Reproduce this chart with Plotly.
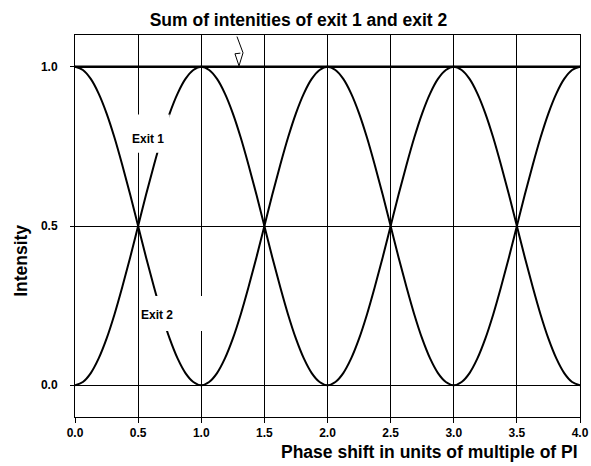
import plotly.graph_objects as go

# Phase shift (units of PI), sampled every 1/16
phase = [0.0, 0.0625, 0.125, 0.1875, 0.25, 0.3125, 0.375, 0.4375,
         0.5, 0.5625, 0.625, 0.6875, 0.75, 0.8125, 0.875, 0.9375,
         1.0, 1.0625, 1.125, 1.1875, 1.25, 1.3125, 1.375, 1.4375,
         1.5, 1.5625, 1.625, 1.6875, 1.75, 1.8125, 1.875, 1.9375,
         2.0, 2.0625, 2.125, 2.1875, 2.25, 2.3125, 2.375, 2.4375,
         2.5, 2.5625, 2.625, 2.6875, 2.75, 2.8125, 2.875, 2.9375,
         3.0, 3.0625, 3.125, 3.1875, 3.25, 3.3125, 3.375, 3.4375,
         3.5, 3.5625, 3.625, 3.6875, 3.75, 3.8125, 3.875, 3.9375, 4.0]

# Intensity at exit 1 (reaches 1 at odd multiples of PI)
exit1 = [0.000, 0.010, 0.038, 0.084, 0.146, 0.222, 0.309, 0.402,
         0.500, 0.598, 0.691, 0.778, 0.854, 0.916, 0.962, 0.990,
         1.000, 0.990, 0.962, 0.916, 0.854, 0.778, 0.691, 0.598,
         0.500, 0.402, 0.309, 0.222, 0.146, 0.084, 0.038, 0.010,
         0.000, 0.010, 0.038, 0.084, 0.146, 0.222, 0.309, 0.402,
         0.500, 0.598, 0.691, 0.778, 0.854, 0.916, 0.962, 0.990,
         1.000, 0.990, 0.962, 0.916, 0.854, 0.778, 0.691, 0.598,
         0.500, 0.402, 0.309, 0.222, 0.146, 0.084, 0.038, 0.010, 0.000]

# Intensity at exit 2 (complementary to exit 1)
exit2 = [1.000, 0.990, 0.962, 0.916, 0.854, 0.778, 0.691, 0.598,
         0.500, 0.402, 0.309, 0.222, 0.146, 0.084, 0.038, 0.010,
         0.000, 0.010, 0.038, 0.084, 0.146, 0.222, 0.309, 0.402,
         0.500, 0.598, 0.691, 0.778, 0.854, 0.916, 0.962, 0.990,
         1.000, 0.990, 0.962, 0.916, 0.854, 0.778, 0.691, 0.598,
         0.500, 0.402, 0.309, 0.222, 0.146, 0.084, 0.038, 0.010,
         0.000, 0.010, 0.038, 0.084, 0.146, 0.222, 0.309, 0.402,
         0.500, 0.598, 0.691, 0.778, 0.854, 0.916, 0.962, 0.990, 1.000]

# Sum of both exits
total = [1.00] * len(phase)

x_ticks = [0.0, 0.5, 1.0, 1.5, 2.0, 2.5, 3.0, 3.5, 4.0]
x_tick_labels = ["0.0", "0.5", "1.0", "1.5", "2.0", "2.5", "3.0", "3.5", "4.0"]
y_ticks = [0.0, 0.5, 1.0]
y_tick_labels = ["0.0", "0.5", "1.0"]

FONT = "Arial, 'Liberation Sans', sans-serif"

fig = go.Figure()
fig.add_trace(go.Scatter(x=phase, y=exit1, mode="lines", name="Exit 1",
                         line=dict(color="black", width=2, shape="spline")))
fig.add_trace(go.Scatter(x=phase, y=exit2, mode="lines", name="Exit 2",
                         line=dict(color="black", width=2, shape="spline")))
fig.add_trace(go.Scatter(x=phase, y=total, mode="lines", name="Sum",
                         line=dict(color="black", width=2.5)))

# white label backgrounds that interrupt curves and grid
fig.add_shape(type="rect", xref="x", yref="y", x0=0.47, x1=0.75, y0=0.73, y1=0.85,
              fillcolor="white", line=dict(width=0), layer="above")
fig.add_shape(type="rect", xref="x", yref="y", x0=0.52, x1=1.03, y0=0.17, y1=0.28,
              fillcolor="white", line=dict(width=0), layer="above")

# small pointer to the sum line
fig.add_shape(type="path", xref="x", yref="y",
              path="M 1.283 1.095 L 1.331 1.044 L 1.299 1.003 L 1.267 1.041 L 1.31 1.043",
              line=dict(color="black", width=1), layer="above")

fig.add_annotation(x=0.578, y=0.774, xref="x", yref="y", text="<b>Exit 1</b>",
                   showarrow=False, font=dict(family=FONT, size=12, color="black"))
fig.add_annotation(x=0.653, y=0.222, xref="x", yref="y", text="<b>Exit 2</b>",
                   showarrow=False, font=dict(family=FONT, size=12, color="black"))

# axis titles
fig.add_annotation(x=1.0, y=-0.06, xref="paper", yref="paper", xanchor="right",
                   yanchor="top", text="<b>Phase shift in units of multiple of PI</b>",
                   showarrow=False, font=dict(family=FONT, size=17.5, color="black"))
fig.add_annotation(x=-0.106, y=0.41, xref="paper", yref="paper", textangle=-90,
                   xanchor="center", yanchor="middle",
                   text="<b>Intensity</b>", showarrow=False,
                   font=dict(family=FONT, size=17.5, color="black"))

fig.update_layout(
    width=591, height=466,
    margin=dict(l=75, r=11, t=35, b=49, autoexpand=False),
    paper_bgcolor="white", plot_bgcolor="white",
    showlegend=False,
    title=dict(text="<b>Sum of intenities of exit 1 and exit 2</b>",
               x=0.505, xanchor="center", y=0.958, yanchor="middle",
               font=dict(family=FONT, size=17.5, color="black")),
    font=dict(family=FONT, color="black"),
)
fig.update_xaxes(range=[0, 4], tickvals=x_ticks, ticktext=["<b>%s</b>" % t for t in x_tick_labels],
                 showgrid=True, gridcolor="black", gridwidth=1, automargin=False,
                 showline=True, linecolor="black", linewidth=1, mirror=True,
                 ticks="outside", ticklen=5, tickcolor="black",
                 tickfont=dict(family=FONT, size=12, color="black"), zeroline=False)
fig.update_yaxes(range=[-0.1, 1.1], tickvals=y_ticks, ticktext=["<b>%s</b>" % t for t in y_tick_labels],
                 showgrid=True, gridcolor="black", gridwidth=1, automargin=False,
                 showline=True, linecolor="black", linewidth=1, mirror=True,
                 ticks="outside", ticklen=4, tickcolor="black", ticklabelstandoff=10,
                 tickfont=dict(family=FONT, size=12, color="black"), zeroline=False)

fig.write_html("out.html")
